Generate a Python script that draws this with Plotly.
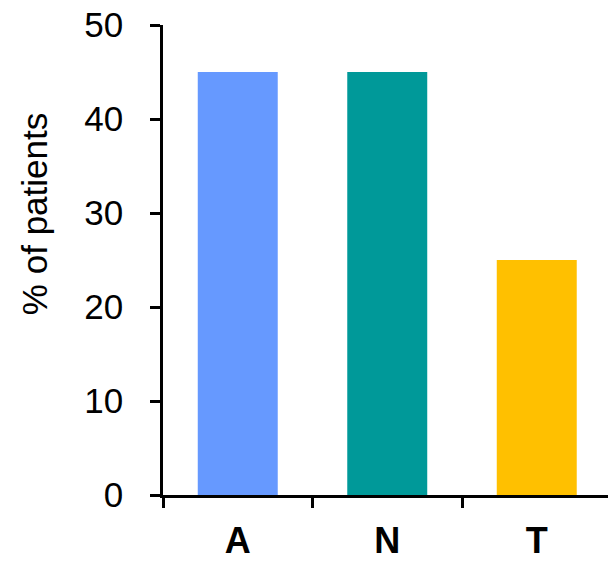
import plotly.graph_objects as go

categories = ["A", "N", "T"]
values = [45, 45, 25]
colors = ["#6699FF", "#009999", "#FFC000"]
y_ticks = [0, 10, 20, 30, 40, 50]
y_title = "% of patients"

FONT = "Liberation Sans, Arial"

fig = go.Figure(go.Bar(
    x=categories, y=values, marker=dict(color=colors, line=dict(width=0)),
    width=0.535,
))

fig.update_layout(
    width=608, height=561,
    margin=dict(l=163, r=0, t=25, b=61),
    plot_bgcolor="white", paper_bgcolor="white",
    font=dict(family=FONT, size=35, color="black"),
    showlegend=False,
    annotations=[dict(
        text=y_title, xref="paper", yref="paper",
        x=-0.29, y=0.5975, xanchor="center", yanchor="middle",
        textangle=-90, showarrow=False, font=dict(size=35, family=FONT),
    )],
)
fig.update_xaxes(
    type="category", range=[-0.5, 2.4766], tickson="boundaries",
    ticks="outside", ticklen=10, tickwidth=2.5, tickcolor="black",
    showline=True, linewidth=2.5, linecolor="black", showgrid=False,
    tickfont=dict(size=36, family=FONT, weight="bold"),
    ticklabelstandoff=12, ticklabeloverflow="allow",
)
fig.update_yaxes(
    range=[0, 50], tickvals=y_ticks, ticks="outside", ticklen=10, tickwidth=2.5,
    tickcolor="black", showline=True, linewidth=2.5, linecolor="black",
    showgrid=False, zeroline=False,
    tickfont=dict(size=35, family=FONT),
    ticklabelstandoff=20, ticklabeloverflow="allow",
)
fig.write_html(
    "out.html",
    config={"displayModeBar": False},
    post_script="document.body.style.margin='0';document.body.style.overflow='hidden';",
)
